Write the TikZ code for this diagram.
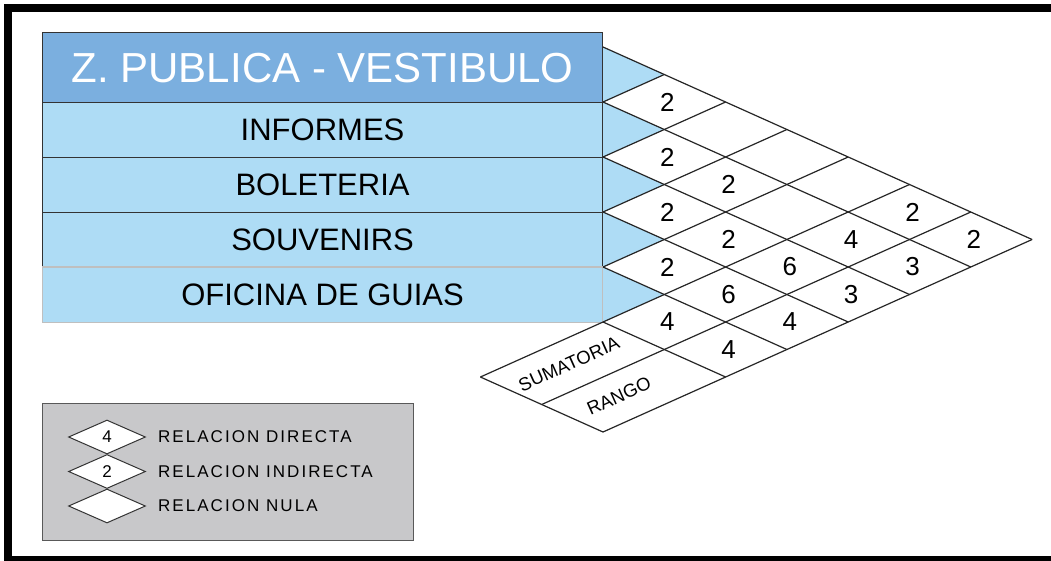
\documentclass[tikz,border=0pt]{standalone}
\usepackage{fontspec}
\setmainfont{Liberation Sans}
\newfontfamily\legfont[LetterSpace=12]{Liberation Sans}
\usetikzlibrary{shapes.geometric}
\definecolor{hdr}{HTML}{7BAFDF}
\definecolor{rowc}{HTML}{AEDCF5}
\definecolor{leg}{HTML}{C8C8CA}
\begin{document}
\begin{tikzpicture}[x=1pt,y=-1pt,
  gridline/.style={draw=black!85,line width=1.2pt},
  rowbox/.style={draw=black!80,line width=1.1pt,fill=rowc,minimum width=560pt,inner sep=0pt,anchor=north west,font=\fontsize{31}{31}\selectfont},
  cellnum/.style={font=\fontsize{26}{26}\selectfont,inner sep=0pt},
  smalltxt/.style={font=\fontsize{18.5}{18.5}\selectfont,inner sep=0pt,rotate=24.2},
  legdiam/.style={diamond,draw=black!80,line width=1pt,fill=white,minimum width=77pt,minimum height=34pt,inner sep=0pt,font=\fontsize{17}{17}\selectfont},
  legtxt/.style={anchor=west,inner sep=0pt,font=\fontsize{17}{17}\legfont},
  frame/.style={line width=8pt,draw=black}]
\useasboundingbox (0,0) rectangle (1051,560);
\clip (0,0) rectangle (1051,560);
\fill[white] (0,0) rectangle (1051,560);
% grid points
\foreach \c in {-2,...,7}{\foreach \r in {-2,...,12}{
  \coordinate (g\c r\r) at ({603+61.3*\c},{102+27.5*\r});}}
% table rows
\node[rowbox,draw=black!25,minimum height=55pt] (ofi) at (42,267) {OFICINA DE GUIAS};
\node[rowbox,minimum height=55pt] (sou) at (42,212) {SOUVENIRS};
\node[rowbox,minimum height=55pt] (bol) at (42,157) {BOLETERIA};
\node[rowbox,minimum height=55pt] (inf) at (42,102) {INFORMES};
\node[rowbox,fill=hdr,minimum height=70pt,text=white,font=\fontsize{42}{42}\selectfont] (zpv) at (42,32) {Z. PUBLICA - VESTIBULO};
\draw[draw=black!25,line width=1.1pt] (ofi.north west) -- (ofi.north east);
% blue triangles
\foreach \k/\a/\b in {0/-2/-1,1/0/1,2/2/3,3/4/5,4/6/7}{
  \pgfmathtruncatemacro\e{\a+2}
  \fill[rowc] (g0r\a) -- (g1r\b) -- (g0r\e) -- cycle;}
% down-right lines
\draw[gridline] (g0r-2) -- (g7r5);
\draw[gridline] (g0r0) -- (g6r6);
\draw[gridline] (g0r2) -- (g5r7);
\draw[gridline] (g0r4) -- (g4r8);
\draw[gridline] (g0r6) -- (g3r9);
\draw[gridline] (g0r8) -- (g2r10);
\draw[gridline] (g-2r10) -- (g0r12);
% up-right lines
\draw[gridline] (g0r0) -- (g1r-1);
\draw[gridline] (g0r2) -- (g2r0);
\draw[gridline] (g0r4) -- (g3r1);
\draw[gridline] (g0r6) -- (g4r2);
\draw[gridline] (g-2r10) -- (g5r3);
\draw[gridline] (g-1r11) -- (g6r4);
\draw[gridline] (g0r12) -- (g7r5);
% numbers
\foreach \c/\r/\v in {1/0/2,1/2/2,2/3/2,1/4/2,5/4/2,2/5/2,4/5/4,6/5/2,1/6/2,3/6/6,5/6/3,2/7/6,4/7/3,1/8/4,3/8/4,2/9/4}{
  \node[cellnum] (n\c r\r) at ({606+61.3*\c},{102+27.5*\r}) {\v};}
\node[smalltxt] (suma) at (569,364) {SUMATORIA};
\node[smalltxt] (rango) at (619,396) {RANGO};
% legend
\node[draw=black!65,fill=leg,line width=1pt,minimum width=371pt,minimum height=137pt,anchor=north west,inner sep=0pt] (legend) at (42,403) {};
\node[legdiam] (d1) at (107,437) {4};
\node[legdiam] (d2) at (107,471.5) {2};
\node[legdiam] (d3) at (107,506) {};
\node[legtxt] (t1) at (158,437) {RELACION DIRECTA};
\node[legtxt] (t2) at (158,471.5) {RELACION INDIRECTA};
\node[legtxt] (t3) at (158,506) {RELACION NULA};
% frame
\draw[frame] (4,8) -- (1060,8);
\draw[frame] (8,4) -- (8,565);
\draw[frame] (4,559.5) -- (1060,559.5);
\end{tikzpicture}
\end{document}
